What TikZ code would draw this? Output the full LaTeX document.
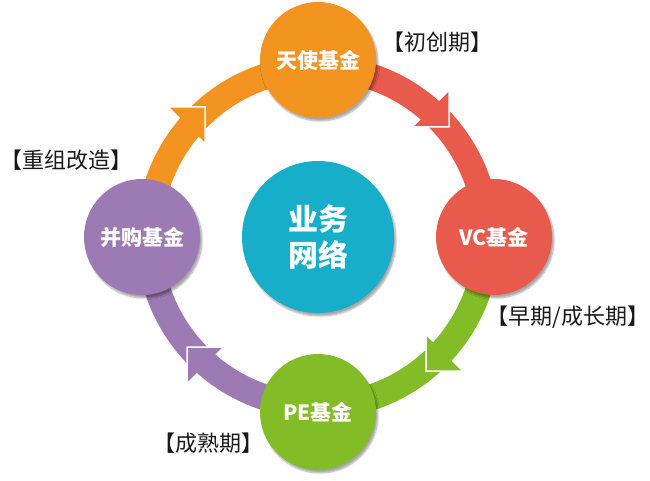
\documentclass[tikz,border=0pt]{standalone}
\usepackage{fontspec}
\newfontfamily\cjk{Noto Sans CJK SC}
\usetikzlibrary{calc,shadows.blur}
\definecolor{cOr}{HTML}{F39420}
\definecolor{cRd}{HTML}{E85A4B}
\definecolor{cGn}{HTML}{82BC26}
\definecolor{cPu}{HTML}{9D7AB4}
\definecolor{cTe}{HTML}{16AEC8}
\begin{document}
\begin{tikzpicture}[x=1pt,y=1pt,
  sat/.style={circle, minimum size=116pt, inner sep=0pt, text=white,
    font=\cjk\bfseries\fontsize{21}{25}\selectfont,
    blur shadow={shadow xshift=2pt, shadow yshift=-3pt, shadow blur steps=6, shadow opacity=35}},
  hub/.style={circle, minimum size=152pt, inner sep=0pt, text=white, align=center,
    font=\cjk\bfseries\fontsize{30}{36}\selectfont,
    blur shadow={shadow xshift=2pt, shadow yshift=-3pt, shadow blur steps=6, shadow opacity=35}},
  band/.style={line width=26pt},
  tiphead/.style={draw=white, line width=1.5pt},
  lab/.style={font=\cjk\fontsize{22}{26}\selectfont, text=black!90, inner sep=0pt}]
\useasboundingbox (0,0) rectangle (650,480);
\coordinate (O) at (318,243);
\def\R{169}
% orange quadrant (left -> top)
\draw[band, cOr] ([shift={(O)}]140:\R) arc[start angle=140, end angle=90, radius=\R];
\filldraw[tiphead, fill=cOr] ($(O)+(-113,130)$) -- ++(-37,0) -- ++(37,-37) -- cycle;
\draw[band, cOr] ([shift={(O)}]180:\R) arc[start angle=180, end angle=137, radius=\R];
% red quadrant (top -> right)
\draw[band, cRd] ([shift={(O)}]49:\R) arc[start angle=49, end angle=0, radius=\R];
\filldraw[tiphead, fill=cRd] ($(O)+(131,110)$) -- ++(0,37) -- ++(-37,-37) -- cycle;
\draw[band, cRd] ([shift={(O)}]90:\R) arc[start angle=90, end angle=46, radius=\R];
% green quadrant (right -> bottom)
\draw[band, cGn] ([shift={(O)}]-42:\R) arc[start angle=-42, end angle=-90, radius=\R];
\filldraw[tiphead, fill=cGn] ($(O)+(108,-134)$) -- ++(0,37) -- ++(37,-37) -- cycle;
\draw[band, cGn] ([shift={(O)}]0:\R) arc[start angle=0, end angle=-45, radius=\R];
% purple quadrant (bottom -> left)
\draw[band, cPu] ([shift={(O)}]-131:\R) arc[start angle=-131, end angle=-180, radius=\R];
\filldraw[tiphead, fill=cPu] ($(O)+(-131,-110)$) -- ++(0,-37) -- ++(37,37) -- cycle;
\draw[band, cPu] ([shift={(O)}]-90:\R) arc[start angle=-90, end angle=-134, radius=\R];
% circles
\node[hub, fill=cTe] (hub) at (O) {业务\\网络};
\node[sat, fill=cOr] (angel) at ($(O)+(0,177)$) {天使基金};
\node[sat, fill=cRd] (vc) at ($(O)+(176,0)$) {VC基金};
\node[sat, fill=cGn] (pe) at ($(O)+(0,-175)$) {PE基金};
\node[sat, fill=cPu] (ma) at ($(O)+(-176,0)$) {并购基金};
% stage labels
\node[lab] (l1) at (437,438) {【初创期】};
\node[lab] (l2) at (67,320) {【重组改造】};
\node[lab] (l3) at (568,163) {【早期/成长期】};
\node[lab] (l4) at (208,37) {【成熟期】};
\end{tikzpicture}
\end{document}
